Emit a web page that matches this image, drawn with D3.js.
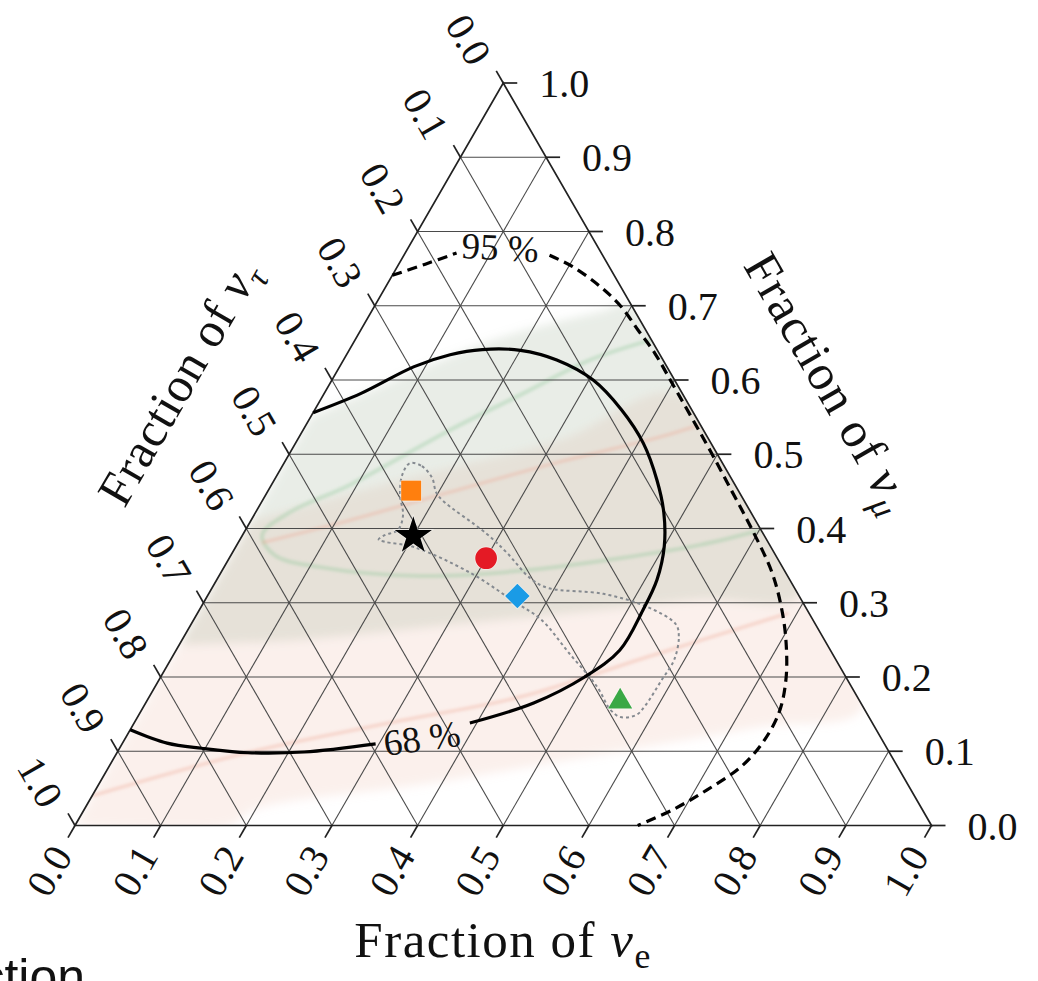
<!DOCTYPE html>
<html>
<head>
<meta charset="utf-8">
<script src="https://cdn.jsdelivr.net/npm/d3@7"></script>
<style>
  body { margin: 0; background: #fff; }
  svg { display: block; }
  .serif { font-family: "Liberation Serif", "DejaVu Serif", serif; fill: #111; }
</style>
</head>
<body>
<div id="chart"></div>
<script>
// ternary points are [fraction of nu_e, fraction of nu_mu]; tau = 1 - e - mu
var ticks = [0, 0.1, 0.2, 0.3, 0.4, 0.5, 0.6, 0.7, 0.8, 0.9, 1.0];
var tickLabels = ["0.0", "0.1", "0.2", "0.3", "0.4", "0.5", "0.6", "0.7", "0.8", "0.9", "1.0"];

// 68 % contour, split where the label sits
var contour68a = [[0.0, 0.556], [0.043, 0.582], [0.087, 0.618], [0.121, 0.634], [0.155, 0.641],
  [0.200, 0.640], [0.249, 0.627], [0.305, 0.600], [0.358, 0.560], [0.406, 0.515],
  [0.447, 0.465], [0.477, 0.421], [0.500, 0.376], [0.514, 0.331], [0.518, 0.290],
  [0.518, 0.236], [0.495, 0.200], [0.453, 0.165], [0.392, 0.138]];
var contour68b = [[0.296, 0.110], [0.218, 0.099], [0.153, 0.098], [0.096, 0.104],
  [0.052, 0.111], [0.0, 0.129]];
var label68 = [0.346, 0.118];

// 95 % contour, split where the label sits
var contour95a = [[0.0, 0.741], [0.031, 0.756], [0.060, 0.771]];
var contour95b = [[0.170, 0.768], [0.204, 0.753], [0.250, 0.726], [0.288, 0.699],
  [0.324, 0.667], [0.359, 0.636], [0.399, 0.596], [0.490, 0.504], [0.542, 0.450],
  [0.588, 0.402], [0.644, 0.340], [0.683, 0.286], [0.710, 0.241], [0.732, 0.196],
  [0.746, 0.152], [0.747, 0.111], [0.738, 0.079], [0.714, 0.048], [0.687, 0.021],
  [0.657, 0.0]];
var label95 = [0.107, 0.779];

// best-fit flavour compositions
var markerNames = ["square", "star", "circle", "diamond", "triangle"];
var markerE = [0.167, 0.200, 0.300, 0.362, 0.553];
var markerMu = [0.451, 0.390, 0.360, 0.309, 0.167];

// dotted envelope around the markers
var envelope = [[0.147, 0.488], [0.163, 0.484], [0.183, 0.468], [0.197, 0.449], [0.210, 0.438],
  [0.284, 0.393], [0.321, 0.367], [0.365, 0.333], [0.392, 0.320], [0.461, 0.312],
  [0.522, 0.294], [0.566, 0.271], [0.578, 0.254], [0.588, 0.223], [0.587, 0.196],
  [0.585, 0.161], [0.581, 0.149], [0.564, 0.146], [0.547, 0.156], [0.516, 0.187],
  [0.461, 0.232], [0.406, 0.277], [0.363, 0.301], [0.292, 0.340], [0.208, 0.375],
  [0.171, 0.382], [0.162, 0.385], [0.166, 0.391], [0.178, 0.398], [0.174, 0.418],
  [0.157, 0.445], [0.146, 0.472]];

// shaded likelihood regions in the background
var greenRegion = [[0.0, 0.55], [0.078, 0.603], [0.168, 0.657], [0.267, 0.692], [0.30, 0.70],
  [0.69, 0.31], [0.578, 0.304], [0.468, 0.290], [0.303, 0.270], [0.138, 0.250], [0.0, 0.243]];
var pinkRegion = [[0.0, 0.41], [0.147, 0.465], [0.307, 0.519], [0.42, 0.58], [0.84, 0.16],
  [0.734, 0.133], [0.576, 0.098], [0.386, 0.057], [0.197, 0.021], [0.181, 0.0], [0.0, 0.0]];
var greenBand = [[0.346, 0.654], [0.288, 0.627], [0.230, 0.580], [0.172, 0.533], [0.092, 0.459],
  [0.040, 0.422], [0.023, 0.391], [0.051, 0.364], [0.112, 0.348], [0.235, 0.336],
  [0.348, 0.343], [0.456, 0.360], [0.541, 0.378], [0.602, 0.398]];
var redLineUpper = [[0.028, 0.381], [0.115, 0.411], [0.213, 0.449], [0.322, 0.490],
  [0.421, 0.523], [0.46, 0.54]];
var redLineLower = [[0.0, 0.04], [0.155, 0.099], [0.309, 0.141], [0.433, 0.173],
  [0.557, 0.228], [0.690, 0.286]];

var width = 1038, height = 981;

var x = d3.scaleLinear().domain([0, 1]).range([75, 931.5]);
var y = d3.scaleLinear().domain([0, 1]).range([825.5, 83]);

function px(d) { return x(d[0] + d[1] / 2); }
function py(d) { return y(d[1]); }

var svg = d3.select("#chart").append("svg")
    .attr("width", width)
    .attr("height", height);

var defs = svg.append("defs");
defs.append("clipPath").attr("id", "tri")
  .append("path")
    .attr("d", d3.line().x(px).y(py)([[0, 0], [1, 0], [0, 1]]) + "Z");
defs.append("filter").attr("id", "soft")
    .attr("x", "-20%").attr("y", "-20%").attr("width", "140%").attr("height", "140%")
  .append("feGaussianBlur").attr("stdDeviation", 5);
defs.append("filter").attr("id", "softline")
    .attr("x", "-20%").attr("y", "-20%").attr("width", "140%").attr("height", "140%")
  .append("feGaussianBlur").attr("stdDeviation", 1.8);

var line = d3.line().x(px).y(py);
var smooth = d3.line().x(px).y(py).curve(d3.curveCatmullRom.alpha(0.5));

// background shading
var shade = svg.append("g").attr("clip-path", "url(#tri)");
var blurred = shade.append("g").attr("filter", "url(#soft)");
blurred.append("path")
    .attr("d", smooth(pinkRegion) + "Z")
    .attr("fill", "#f0c4b4")
    .attr("fill-opacity", 0.26);
blurred.append("path")
    .attr("d", smooth(greenRegion) + "Z")
    .attr("fill", "#a4b49c")
    .attr("fill-opacity", 0.24);
var lines = shade.append("g").attr("filter", "url(#softline)");
lines.append("path")
    .attr("d", smooth(greenBand))
    .attr("fill", "none")
    .attr("stroke", "#8cc596")
    .attr("stroke-opacity", 0.35)
    .attr("stroke-width", 4);
[redLineUpper, redLineLower].forEach(function(d) {
  lines.append("path")
      .attr("d", smooth(d))
      .attr("fill", "none")
      .attr("stroke", "#efa48f")
      .attr("stroke-opacity", 0.35)
      .attr("stroke-width", 3.5);
});

// grid
var grid = svg.append("g")
    .attr("stroke", "#4a4a4a")
    .attr("stroke-width", 1.1)
    .attr("fill", "none");
ticks.slice(1, -1).forEach(function(k) {
  grid.append("path").attr("d", line([[0, k], [1 - k, k]]));      // constant mu
  grid.append("path").attr("d", line([[k, 0], [k, 1 - k]]));      // constant e
  grid.append("path").attr("d", line([[1 - k, 0], [0, 1 - k]]));  // constant tau
});

// triangle frame
svg.append("path")
    .attr("d", line([[0, 0], [1, 0], [0, 1]]) + "Z")
    .attr("fill", "none")
    .attr("stroke", "#222")
    .attr("stroke-width", 1.7);

// ticks and tick labels
var tickLen = 14;
var tickFont = 40;
var axes = svg.append("g");
var c60 = 0.5, s60 = Math.sqrt(3) / 2;
ticks.forEach(function(k, i) {
  // bottom: fraction of nu_e
  var b = [x(k), y(0)];
  axes.append("line")
      .attr("x1", b[0]).attr("y1", b[1])
      .attr("x2", b[0] - c60 * tickLen).attr("y2", b[1] + s60 * tickLen)
      .attr("stroke", "#222").attr("stroke-width", 1.7);
  var bl = [b[0] - c60 * 27, b[1] + s60 * 27];
  axes.append("text").attr("class", "serif")
      .attr("transform", "translate(" + bl[0] + "," + bl[1] + ") rotate(-60)")
      .attr("text-anchor", "end")
      .attr("dy", "0.35em")
      .attr("font-size", tickFont)
      .text(tickLabels[i]);

  // right: fraction of nu_mu
  var r = [px([1 - k, k]), py([1 - k, k])];
  axes.append("line")
      .attr("x1", r[0]).attr("y1", r[1])
      .attr("x2", r[0] + tickLen).attr("y2", r[1])
      .attr("stroke", "#222").attr("stroke-width", 1.7);
  axes.append("text").attr("class", "serif")
      .attr("x", r[0] + 36).attr("y", r[1])
      .attr("dy", "0.35em")
      .attr("font-size", tickFont)
      .text(tickLabels[i]);

  // left: fraction of nu_tau
  var l = [px([0, 1 - k]), py([0, 1 - k])];
  axes.append("line")
      .attr("x1", l[0]).attr("y1", l[1])
      .attr("x2", l[0] - c60 * tickLen).attr("y2", l[1] - s60 * tickLen)
      .attr("stroke", "#222").attr("stroke-width", 1.7);
  var ll = [l[0] - c60 * 30, l[1] - s60 * 30];
  axes.append("text").attr("class", "serif")
      .attr("transform", "translate(" + ll[0] + "," + ll[1] + ") rotate(60)")
      .attr("text-anchor", "end")
      .attr("dy", "0.55em")
      .attr("font-size", tickFont)
      .text(tickLabels[i]);
});

// axis titles
function title(g, sub, italicSub) {
  g.append("tspan").text("Fraction of ");
  g.append("tspan").attr("font-style", "italic").text("\u03bd");
  g.append("tspan")
      .attr("font-size", "70%")
      .attr("dy", "0.3em")
      .attr("font-style", italicSub ? "italic" : "normal")
      .text(sub);
}
title(svg.append("text").attr("class", "serif")
    .attr("x", 503).attr("y", 957)
    .attr("text-anchor", "middle")
    .attr("letter-spacing", 1.5)
    .attr("font-size", 51), "e", false);
title(svg.append("text").attr("class", "serif")
    .attr("transform", "translate(178,382) rotate(-60)")
    .attr("text-anchor", "middle")
    .attr("letter-spacing", 0.8)
    .attr("dy", "0.35em")
    .attr("font-size", 49), "\u03c4", true);
title(svg.append("text").attr("class", "serif")
    .attr("transform", "translate(830,382) rotate(60)")
    .attr("text-anchor", "middle")
    .attr("letter-spacing", 1.2)
    .attr("dy", "0.35em")
    .attr("font-size", 50), "\u03bc", true);

// dotted envelope
svg.append("path")
    .attr("d", d3.line().x(px).y(py).curve(d3.curveCatmullRomClosed.alpha(0.5))(envelope))
    .attr("fill", "none")
    .attr("stroke", "#858a90")
    .attr("stroke-width", 2)
    .attr("stroke-dasharray", "3,3");

// confidence contours
[contour68a, contour68b].forEach(function(d) {
  svg.append("path")
      .attr("d", smooth(d))
      .attr("fill", "none")
      .attr("stroke", "#000")
      .attr("stroke-width", 3.2);
});
[contour95a, contour95b].forEach(function(d) {
  svg.append("path")
      .attr("d", smooth(d))
      .attr("fill", "none")
      .attr("stroke", "#000")
      .attr("stroke-width", 3.2)
      .attr("stroke-dasharray", "10,6");
});
svg.append("text").attr("class", "serif")
    .attr("transform", "translate(" + px(label68) + "," + py(label68) + ") rotate(-8)")
    .attr("text-anchor", "middle")
    .attr("dy", "0.35em")
    .attr("font-size", 37)
    .text("68 %");
svg.append("text").attr("class", "serif")
    .attr("transform", "translate(" + px(label95) + "," + py(label95) + ") rotate(3)")
    .attr("text-anchor", "middle")
    .attr("dy", "0.35em")
    .attr("font-size", 37)
    .text("95 %");

// markers
var markerStyle = {
  square:   { type: d3.symbolSquare,   size: 400, fill: "#ff7f0e", rotate: 0 },
  star:     { type: d3.symbolStar,     size: 430, fill: "#000000", rotate: 0 },
  circle:   { type: d3.symbolCircle,   size: 370, fill: "#e41a25", rotate: 0 },
  diamond:  { type: d3.symbolSquare,   size: 300, fill: "#1a9be6", rotate: 45 },
  triangle: { type: d3.symbolTriangle, size: 250, fill: "#3aa845", rotate: 0 }
};
markerNames.forEach(function(name, i) {
  var st = markerStyle[name];
  var p = [markerE[i], markerMu[i]];
  svg.append("path")
      .attr("d", d3.symbol().type(st.type).size(st.size)())
      .attr("transform", "translate(" + px(p) + "," + py(p) + ") rotate(" + st.rotate + ")")
      .attr("fill", st.fill)
      .attr("stroke", "#fff")
      .attr("stroke-opacity", 0.5)
      .attr("stroke-width", 1.5)
      .attr("paint-order", "stroke");
});

// stray caption fragment at the lower left edge
svg.append("text")
    .attr("x", 85).attr("y", 994)
    .attr("text-anchor", "end")
    .attr("font-family", "Liberation Sans, Arial, sans-serif")
    .attr("font-size", 50)
    .attr("fill", "#111")
    .text("Fraction");
</script>
</body>
</html>
